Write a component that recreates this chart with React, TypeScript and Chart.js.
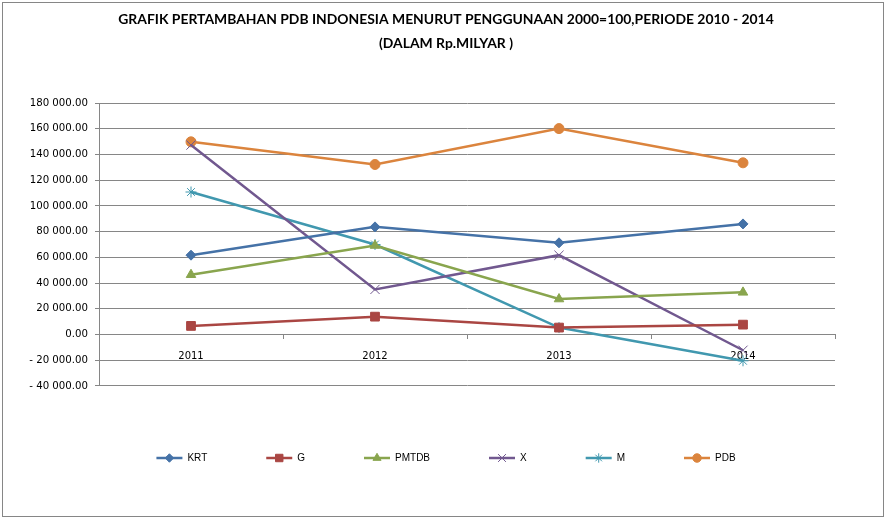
import { useEffect, useRef } from "react";
import { Chart, registerables } from "chart.js";
import { drawPoint } from "chart.js/helpers";

Chart.register(...registerables);

const years = ["2011", "2012", "2013", "2014"];

const krt = [61700, 83700, 71300, 86000];
const g = [6700, 13900, 5400, 7700];
const pmtdb = [46500, 69200, 27600, 32800];
const x = [147300, 35100, 61700, -12200];
const m = [110800, 70000, 5400, -20400];
const pdb = [149800, 132200, 160100, 133500];

const seriesNames = ["KRT", "G", "PMTDB", "X", "M", "PDB"];
const seriesColors = ["#4572A7", "#AA4643", "#89A54E", "#71588F", "#4198AF", "#DB843D"];
const markerStyles = ["rectRot", "rect", "triangle", "crossRot", "star", "circle"];
const markerRadius = [5, 6.2, 5.5, 6.5, 5.5, 5];

const titleLines = [
  "GRAFIK PERTAMBAHAN PDB INDONESIA MENURUT PENGGUNAAN 2000=100,PERIODE 2010 - 2014",
  "(DALAM Rp.MILYAR )",
];

const gridGray = "#868686";

function formatRp(v: number) {
  const s = Math.abs(v).toFixed(2);
  const [int, dec] = s.split(".");
  const grouped = int.replace(/\B(?=(\d{3})+(?!\d))/g, " ");
  return (v < 0 ? "- " : "") + grouped + "." + dec;
}

// draws a line with the marker in the middle, in place of the legend box
const legendMarkers = {
  id: "legendMarkers",
  afterDraw(chart: any) {
    const legend = chart.legend;
    if (!legend || !legend.legendHitBoxes) return;
    const ctx = chart.ctx;
    const boxWidth = legend.options.labels.boxWidth;
    legend.legendHitBoxes.forEach((hb: any, i: number) => {
      const cy = hb.top + hb.height / 2;
      const color = seriesColors[i];
      ctx.save();
      ctx.strokeStyle = color;
      ctx.lineWidth = 2.5;
      ctx.beginPath();
      ctx.moveTo(hb.left, cy);
      ctx.lineTo(hb.left + boxWidth, cy);
      ctx.stroke();
      ctx.fillStyle = color;
      ctx.strokeStyle = color;
      ctx.lineWidth = 1;
      drawPoint(
        ctx,
        { pointStyle: markerStyles[i] as any, radius: markerRadius[i] * 0.85, rotation: 0, borderWidth: 1 },
        hb.left + boxWidth / 2,
        cy
      );
      ctx.restore();
    });
  },
};

export default function App() {
  const ref = useRef<HTMLCanvasElement>(null);

  useEffect(() => {
    if (!ref.current) return;

    const values = [krt, g, pmtdb, x, m, pdb];
    const datasets = values.map((vals, i) => ({
      label: seriesNames[i],
      data: vals,
      borderColor: seriesColors[i],
      backgroundColor: seriesColors[i],
      borderWidth: 2.5,
      tension: 0,
      fill: false,
      pointStyle: markerStyles[i] as any,
      pointRadius: markerRadius[i],
      pointBackgroundColor: seriesColors[i],
      pointBorderColor: seriesColors[i],
      pointBorderWidth: 1,
    }));

    const chart = new Chart(ref.current, {
      type: "line",
      data: { labels: years, datasets },
      plugins: [legendMarkers],
      options: {
        animation: false,
        responsive: true,
        maintainAspectRatio: false,
        layout: { padding: { left: 0, right: 0, top: 0, bottom: 51 } },
        plugins: {
          title: {
            display: true,
            text: titleLines,
            color: "#000",
            font: { family: "Lato", size: 13.9, weight: "bold", lineHeight: 24 / 13.9 },
            padding: { top: 8, bottom: 47 },
          },
          legend: {
            position: "bottom",
            title: { display: true, text: "", font: { size: 6.67 }, padding: 0 },
            labels: {
              color: "#000",
              font: { family: "Liberation Sans", size: 10 },
              boxWidth: 26,
              boxHeight: 10,
              padding: 59,
              generateLabels: (c: any) =>
                c.data.datasets.map((ds: any, i: number) => ({
                  text: ds.label,
                  fillStyle: "rgba(0,0,0,0)",
                  strokeStyle: "rgba(0,0,0,0)",
                  lineWidth: 0,
                  fontColor: "#000",
                  hidden: false,
                  datasetIndex: i,
                })),
            },
          },
          tooltip: { enabled: false },
        },
        scales: {
          x: {
            type: "category",
            position: { y: 0 } as any,
            offset: true,
            grid: {
              offset: true,
              drawOnChartArea: false,
              drawTicks: true,
              tickLength: 4,
              color: gridGray,
            },
            border: { color: gridGray, width: 1 },
            ticks: {
              color: "#000",
              font: { family: "DejaVu Sans", size: 10 },
              padding: 12,
              maxRotation: 0,
            },
          },
          y: {
            position: "left",
            min: -40000,
            max: 180000,
            afterFit: (s: any) => {
              s.width = 99;
            },
            grid: { color: gridGray, tickLength: 4, drawTicks: true },
            border: { color: gridGray, width: 1 },
            ticks: {
              stepSize: 20000,
              color: "#000",
              font: { family: "DejaVu Sans", size: 10.2 },
              padding: 7,
              callback: (v: any) => formatRp(Number(v)),
            },
          },
          yRight: {
            position: "right",
            display: true,
            afterFit: (s: any) => {
              s.width = 57;
            },
            grid: { display: false, drawOnChartArea: false },
            border: { display: false },
            ticks: { display: false },
          },
        },
      },
    });

    return () => chart.destroy();
  }, []);

  return (
    <div style={{ position: "absolute", left: 0, top: 0, width: 892, height: 524, background: "#fff" }}>
      <div
        style={{
          position: "absolute",
          left: 2,
          top: 2,
          width: 882,
          height: 515,
          border: "1px solid #868686",
          boxSizing: "border-box",
        }}
      />
      <div style={{ position: "absolute", left: 0, top: 0, width: 892, height: 524 }}>
        <canvas ref={ref} />
      </div>
    </div>
  );
}
